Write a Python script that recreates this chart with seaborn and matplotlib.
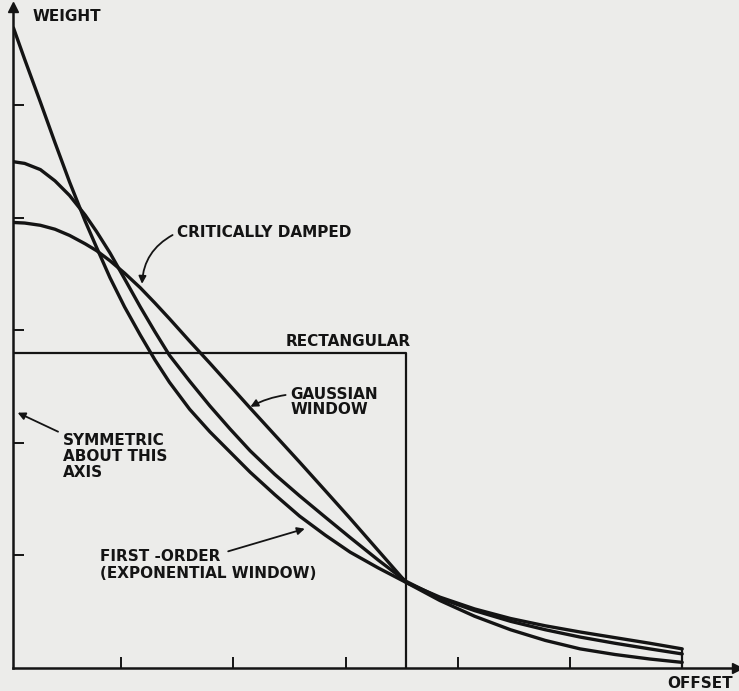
import numpy as np
import pandas as pd
import seaborn as sns
import matplotlib.pyplot as plt

# values (one tick = one unit)
offset = [0.04, 0.14, 0.28, 0.41, 0.54, 0.68, 0.78, 0.90, 1.03, 1.17, 1.30, 1.43, 1.61, 1.79, 1.97,
          2.15, 2.37, 2.59, 2.82, 3.04, 3.29, 3.54, 3.84, 4.15, 4.47, 4.78, 5.09, 5.40, 5.71, 6.00]
w_first_order = [5.69, 5.41, 5.03, 4.67, 4.32, 3.97, 3.74, 3.47, 3.21, 2.96, 2.74, 2.54, 2.30, 2.10, 1.92,
                 1.74, 1.54, 1.35, 1.18, 1.03, 0.89, 0.76, 0.63, 0.525, 0.44, 0.375, 0.32, 0.27, 0.22, 0.17]
w_crit_damped = [4.50, 4.485, 4.43, 4.33, 4.20, 4.025, 3.88, 3.69, 3.46, 3.21, 2.99, 2.78, 2.55, 2.33, 2.125,
                 1.93, 1.72, 1.53, 1.34, 1.16, 0.96, 0.77, 0.62, 0.51, 0.415, 0.34, 0.275, 0.22, 0.17, 0.125]
w_gaussian = [3.96, 3.955, 3.935, 3.90, 3.845, 3.77, 3.71, 3.62, 3.51, 3.38, 3.245, 3.105, 2.905, 2.71, 2.51,
              2.31, 2.07, 1.83, 1.575, 1.33, 1.045, 0.76, 0.60, 0.46, 0.34, 0.245, 0.17, 0.12, 0.08, 0.05]
rect_width = 3.54
rect_height = 2.80
x_ticks = [1, 2, 3, 4, 5]
y_ticks = [1, 2, 3, 4, 5]

df = pd.DataFrame({
    'offset': offset * 3,
    'weight': w_first_order + w_crit_damped + w_gaussian,
    'window': ['first order'] * len(offset) + ['critically damped'] * len(offset) + ['gaussian'] * len(offset),
})

paper = '#ececea'
ink = '#141414'

sns.set_style('ticks')
plt.rcParams['font.family'] = ['DejaVu Sans']

fig = plt.figure(figsize=(7.39, 6.91), dpi=100, facecolor=paper)
ax = fig.add_axes([13 / 739, 23 / 691, 726 / 739, 663 / 691])
ax.set_facecolor(paper)

sns.lineplot(data=df, x='offset', y='weight', hue='window', palette=[ink] * 3,
             estimator=None, sort=False, legend=False, linewidth=2.4, ax=ax)

# rectangular window and the closing line at the end of the curves
ax.plot([0.036, rect_width, rect_width], [rect_height, rect_height, 0], color=ink, linewidth=1.6)
ax.plot([offset[-1], offset[-1]], [0, w_first_order[-1]], color=ink, linewidth=1.6)

ax.set_xlim(0.036, 6.506)
ax.set_ylim(0, 5.893)
ax.set_xticks(x_ticks)
ax.set_yticks(y_ticks)
ax.set_xticklabels([])
ax.set_yticklabels([])
ax.tick_params(direction='in', length=8, width=1.4, color=ink)
ax.set_xlabel('')
ax.set_ylabel('')
sns.despine(ax=ax)
for s in ['left', 'bottom']:
    ax.spines[s].set_linewidth(1.8)
    ax.spines[s].set_color(ink)

# axis arrow heads
ax.plot(0.997, 0, '>', color=ink, markersize=7, transform=ax.transAxes, clip_on=False)
ax.plot(0, 0.997, '^', color=ink, markersize=7, transform=ax.transAxes, clip_on=False)

txt = dict(color=ink, fontsize=11, fontweight='bold', va='center', ha='left')
ax.text(0.21, 5.79, 'WEIGHT', **txt)
ax.text(5.87, -0.135, 'OFFSET', clip_on=False, **txt)
ax.text(2.47, 2.90, 'RECTANGULAR', **txt)
ax.text(1.50, 3.87, 'CRITICALLY DAMPED', **txt)
ax.text(2.51, 2.365, 'GAUSSIAN\nWINDOW', linespacing=1.05, **txt)
ax.text(0.48, 1.88, 'SYMMETRIC\nABOUT THIS\nAXIS', linespacing=1.1, **txt)
ax.text(0.81, 0.915, 'FIRST -ORDER\n(EXPONENTIAL WINDOW)', linespacing=1.1, **txt)

arrow = dict(arrowstyle='-|>', color=ink, lw=1.3, mutation_scale=11)
ax.annotate('', xy=(1.185, 3.39), xytext=(1.48, 3.86),
            arrowprops=dict(connectionstyle='arc3,rad=0.3', **arrow))
ax.annotate('', xy=(2.13, 2.31), xytext=(2.49, 2.43),
            arrowprops=dict(connectionstyle='arc3,rad=0.1', **arrow))
ax.annotate('', xy=(0.055, 2.28), xytext=(0.46, 2.09),
            arrowprops=dict(connectionstyle='arc3,rad=0', **arrow))
ax.annotate('', xy=(2.66, 1.245), xytext=(1.93, 1.03),
            arrowprops=dict(connectionstyle='arc3,rad=0', **arrow))

fig.savefig('out.png', dpi=100, facecolor=paper)
